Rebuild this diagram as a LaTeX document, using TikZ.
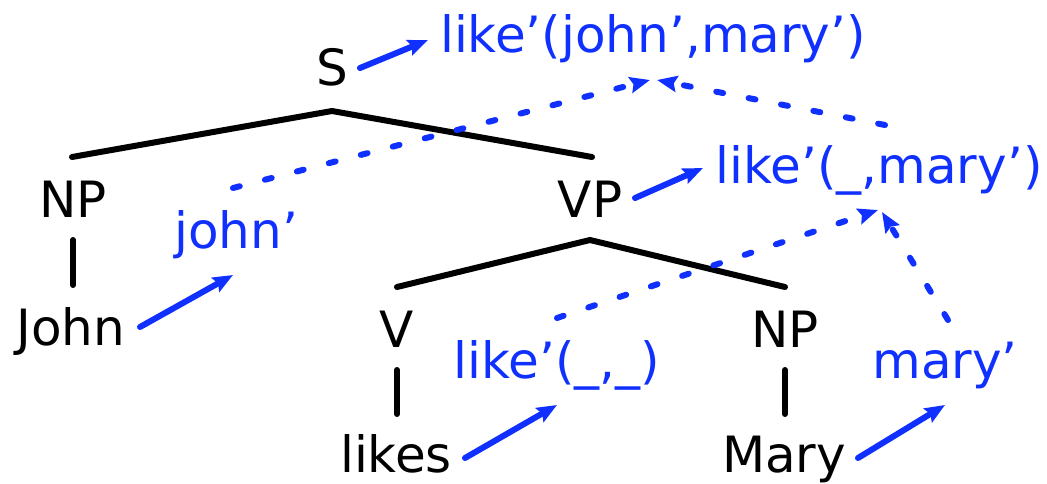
\documentclass[tikz,border=0pt]{standalone}
\usepackage{fontspec}
\setmainfont{DejaVu Sans}
\usetikzlibrary{arrows.meta}
\definecolor{sem}{RGB}{16,48,255}
\begin{document}
\begin{tikzpicture}[x=1pt,y=-1pt,
  word/.style={anchor=base,inner sep=0pt,font=\fontsize{50}{60}\selectfont},
  meaning/.style={word,text=sem},
  branch/.style={line width=6pt,line cap=round},
  maps/.style={draw=sem,line width=6pt,line cap=round,
    -{Stealth[length=20pt,width=16pt,inset=3pt]}},
  composes/.style={maps,dash pattern=on 7pt off 26pt}]
\useasboundingbox (0,0) rectangle (1047,483);

% syntactic categories and words
\node[word] (S)     at (332,85)  {S};
\node[word] (NPj)   at (73,217)  {NP};
\node[word] (VP)    at (590,217) {VP};
\node[word] (John)  at (71,345)  {John};
\node[word] (V)     at (397,347) {V};
\node[word] (NPm)   at (785,347) {NP};
\node[word] (likes) at (396,472) {likes};
\node[word] (Mary)  at (784,472) {Mary};

% meanings
\node[meaning] (mS)     at (653,52)  {like'(john',mary')};
\node[meaning] (mVP)    at (879,183) {like'(\_,mary')};
\node[meaning] (mJohn)  at (236,248) {john'};
\node[meaning] (mlikes) at (557,378) {like'(\_,\_)};
\node[meaning] (mMary)  at (945,378) {mary'};

% branch end points
\coordinate (S-top)    at (332,111);
\coordinate (NPj-top)  at (72,157);
\coordinate (VP-head)  at (592,157);
\coordinate (VP-top)   at (590,240);
\coordinate (V-head)   at (397,287);
\coordinate (NPm-head) at (785,287);
\coordinate (NPj-low)  at (73,240);
\coordinate (John-top) at (73,285);
\coordinate (V-low)    at (397,370);
\coordinate (likes-top) at (397,414);
\coordinate (NPm-low)  at (785,370);
\coordinate (Mary-top) at (785,414);

\draw[branch] (NPj-top) -- (S-top) -- (VP-head);
\draw[branch] (V-head) -- (VP-top) -- (NPm-head);
\draw[branch] (NPj-low) -- (John-top);
\draw[branch] (V-low) -- (likes-top);
\draw[branch] (NPm-low) -- (Mary-top);

% arrow end points
\coordinate (S-out)      at (360,68);
\coordinate (mS-in)      at (428,40);
\coordinate (VP-out)     at (635,198);
\coordinate (mVP-in)     at (703,168);
\coordinate (John-out)   at (140,327);
\coordinate (mJohn-in)   at (233,275);
\coordinate (likes-out)  at (465,458);
\coordinate (mlikes-in)  at (557,405);
\coordinate (Mary-out)   at (858,458);
\coordinate (mMary-in)   at (945,405);

\draw[maps] (S-out) -- (mS-in);
\draw[maps] (VP-out) -- (mVP-in);
\draw[maps] (John-out) -- (mJohn-in);
\draw[maps] (likes-out) -- (mlikes-in);
\draw[maps] (Mary-out) -- (mMary-in);

% composition
\coordinate (mJohn-up)  at (233,188);
\coordinate (mS-left)   at (650,80);
\coordinate (mVP-up)    at (885,125);
\coordinate (mS-right)  at (657,80);
\coordinate (mlikes-up) at (557,318);
\coordinate (mVP-left)  at (878,210);
\coordinate (mMary-up)  at (948,320);
\coordinate (mVP-right) at (882,212);

\draw[composes] (mJohn-up) -- (mS-left);
\draw[composes] (mVP-up) -- (mS-right);
\draw[composes] (mlikes-up) -- (mVP-left);
\draw[composes] (mMary-up) -- (mVP-right);
\end{tikzpicture}
\end{document}
